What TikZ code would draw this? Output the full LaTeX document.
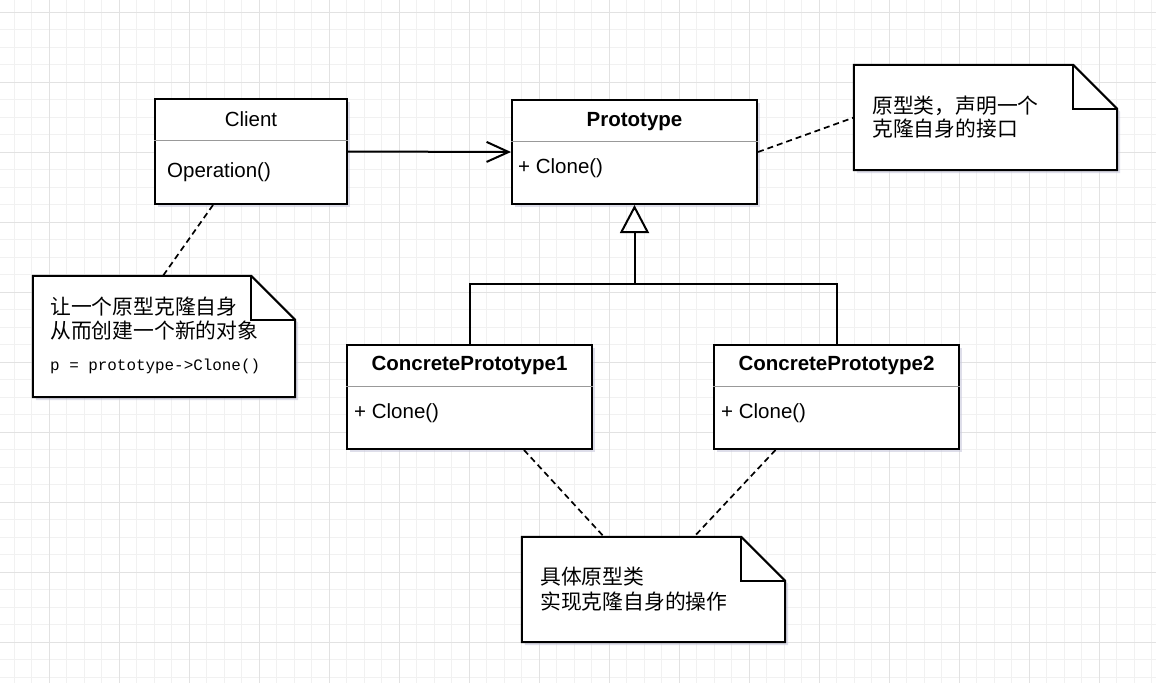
\documentclass[tikz,border=0pt]{standalone}
\usepackage{fontspec}
\setmainfont{Liberation Sans}
\setmonofont{Liberation Mono}
\newfontfamily\cjk{Noto Sans CJK SC}
\usetikzlibrary{arrows.meta,shadows}
\definecolor{minorgrid}{HTML}{F1F1F1}
\definecolor{majorgrid}{HTML}{E2E2E2}
\definecolor{divcol}{HTML}{999999}
\definecolor{shadowcol}{HTML}{C8C8DC}
\tikzset{
  classbox/.style={draw=black, line width=2pt, fill=white, inner sep=0pt,
    drop shadow={shadow xshift=3pt, shadow yshift=-3pt, fill=shadowcol, opacity=0.6}},
  notebox/.style={draw=none, inner sep=0pt},
  notepath/.style={draw=black, line width=2pt, fill=white, line join=miter},
  foldpath/.style={draw=black, line width=2pt},
  divider/.style={draw=divcol, line width=1.6pt},
  lbl/.style={inner sep=0pt, font=\fontsize{20.5}{24}\selectfont},
  ttl/.style={inner sep=0pt, anchor=base, font=\bfseries\fontsize{20.5}{24}\selectfont},
  cjktext/.style={inner sep=0pt, anchor=base west, font=\cjk\fontsize{20.8}{24}\selectfont},
  codetext/.style={inner sep=0pt, anchor=base west, font=\ttfamily\fontsize{15.9}{18}\selectfont},
  conn/.style={draw=black, line width=2pt},
  dashconn/.style={draw=black, line width=1.7pt, dash pattern=on 6pt off 4pt},
}
\begin{document}
\begin{tikzpicture}[x=1pt, y=-1pt]
\useasboundingbox (0,0) rectangle (1156,683);
\fill[white] (0,0) rectangle (1156,683);
% grid
\foreach \i in {-1,...,66} \draw[minorgrid, line width=1pt] ({14.3+17.5*\i},0) -- ({14.3+17.5*\i},683);
\foreach \i in {-1,...,39} \draw[minorgrid, line width=1pt] (0,{12.3+17.5*\i}) -- (1156,{12.3+17.5*\i});
\foreach \i in {0,...,16} \draw[majorgrid, line width=1pt] ({49.3+70*\i},0) -- ({49.3+70*\i},683);
\foreach \i in {0,...,9} \draw[majorgrid, line width=1pt] (0,{12.3+70*\i}) -- (1156,{12.3+70*\i});

% class boxes
\node[classbox, minimum width=192pt, minimum height=105pt] (client) at (251,151.5) {};
\node[classbox, minimum width=245pt, minimum height=104pt] (proto) at (634.5,152) {};
\node[classbox, minimum width=245pt, minimum height=104pt] (cp1) at (469.5,397) {};
\node[classbox, minimum width=245pt, minimum height=104pt] (cp2) at (836.5,397) {};
\foreach \b in {client,proto,cp1,cp2}
  \draw[divider] ([yshift=-42.5pt]\b.north west) -- ([yshift=-42.5pt]\b.north east);

\node[lbl, anchor=base] (clientT) at (251,126) {Client};
\node[lbl, anchor=base west] (clientOp) at (167,177.5) {Operation()};
\node[ttl] (protoT) at (634.5,126) {Prototype};
\node[lbl, anchor=base west] (protoOp) at (518,173) {+ Clone()};
\node[ttl] (cp1T) at (469.5,370.5) {ConcretePrototype1};
\node[lbl, anchor=base west] (cp1Op) at (354,418) {+ Clone()};
\node[ttl] (cp2T) at (836.5,370.5) {ConcretePrototype2};
\node[lbl, anchor=base west] (cp2Op) at (721,418) {+ Clone()};

% notes
\node[notebox, minimum width=263pt, minimum height=105pt] (n1) at (985.5,117.5) {};
\node[notebox, minimum width=262pt, minimum height=121pt] (n2) at (164,336.5) {};
\node[notebox, minimum width=263pt, minimum height=105pt] (n3) at (653.5,589.5) {};
\foreach \n in {n1,n2,n3} {
  \fill[shadowcol, opacity=0.6] ([shift={(3pt,-3pt)}]\n.north west) -- ([shift={(-41pt,-3pt)}]\n.north east)
     -- ([shift={(3pt,-47pt)}]\n.north east) -- ([shift={(3pt,-3pt)}]\n.south east)
     -- ([shift={(3pt,-3pt)}]\n.south west) -- cycle;
  \path[notepath] (\n.north west) -- ([xshift=-44pt]\n.north east) -- ([yshift=-44pt]\n.north east)
     -- (\n.south east) -- (\n.south west) -- cycle;
  \draw[foldpath] ([xshift=-44pt]\n.north east) -- ([shift={(-44pt,-44pt)}]\n.north east) -- ([yshift=-44pt]\n.north east);
}
\node[cjktext] (n1a) at (872,113) {原型类，声明一个};
\node[cjktext] (n1b) at (872,136) {克隆自身的接口};
\node[cjktext] (n2a) at (50,314.5) {让一个原型克隆自身};
\node[cjktext] (n2b) at (50,338.5) {从而创建一个新的对象};
\node[codetext] (n2c) at (50,370) {p = prototype->Clone()};
\node[cjktext] (n3a) at (540,584.5) {具体原型类};
\node[cjktext] (n3b) at (540,609.5) {实现克隆自身的操作};

% connectors
\draw[conn, -{Straight Barb[length=22pt, width=20pt, line width=2pt]}] (client.east) -- (proto.west);
\coordinate (j) at (634.5,284);
\draw[conn, line join=miter] (cp2.north) |- (j);
\draw[conn, line join=miter, -{Triangle[open, length=28pt, width=29pt, line width=2pt]}] (cp1.north) |- (j) -- (proto.south);

\coordinate (cA) at ([xshift=-38pt]client.south);
\coordinate (n2top) at ([xshift=-1pt]n2.north);
\draw[dashconn] (cA) -- (n2top);
\draw[dashconn] (proto.east) -- (n1.west);
\coordinate (c1b) at ([xshift=54.5pt]cp1.south);
\coordinate (n3l) at ([xshift=-49.5pt]n3.north);
\draw[dashconn] (c1b) -- (n3l);
\coordinate (c2b) at ([xshift=-61pt]cp2.south);
\coordinate (n3r) at ([xshift=40.5pt]n3.north);
\draw[dashconn] (c2b) -- (n3r);
\end{tikzpicture}
\end{document}
